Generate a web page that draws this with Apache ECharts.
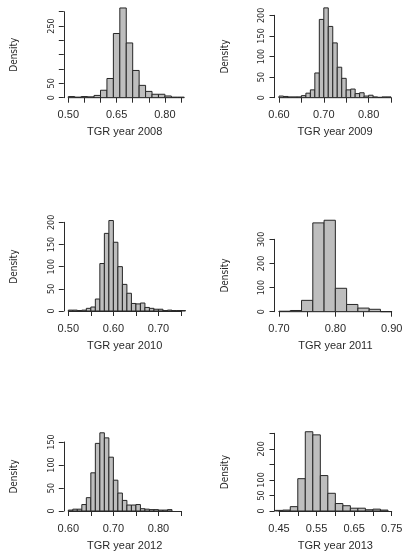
<!DOCTYPE html>
<html>
<head>
<meta charset="utf-8">
<script src="https://cdn.jsdelivr.net/npm/echarts@6/dist/echarts.min.js"></script>
<style>html,body{margin:0;padding:0;background:#fff}#c{width:408px;height:552px}</style>
</head>
<body>
<div id="c"></div>
<script>
// ---- Data ----
var titles = ['TGR year 2008','TGR year 2009','TGR year 2010','TGR year 2011','TGR year 2012','TGR year 2013'];

var breaks2008 = [0.50,0.52,0.54,0.56,0.58,0.60,0.62,0.64,0.66,0.68,0.70,0.72,0.74,0.76,0.78,0.80,0.82,0.84,0.86];
var dens2008   = [4,2,4,3,8,26,67,224,313,191,95,43,22,12,12,6,2,2];

var breaks2009 = [0.60,0.61,0.62,0.63,0.64,0.65,0.66,0.67,0.68,0.69,0.70,0.71,0.72,0.73,0.74,0.75,0.76,0.77,0.78,0.79,0.80,0.81,0.82,0.83,0.84,0.85];
var dens2009   = [4,3,2,2,2,5,11,19,60,190,218,173,133,74,47,19,21,10,12,4,6,2,1,2,2];

var breaks2010 = [0.50,0.51,0.52,0.53,0.54,0.55,0.56,0.57,0.58,0.59,0.60,0.61,0.62,0.63,0.64,0.65,0.66,0.67,0.68,0.69,0.70,0.71,0.72,0.73,0.74,0.75,0.76];
var dens2010   = [2,2,1,2,6,9,27,107,175,204,155,100,60,40,17,16,18,8,6,4,4,1,2,1,1,1];

var breaks2011 = [0.70,0.72,0.74,0.76,0.78,0.80,0.82,0.84,0.86,0.88,0.90];
var dens2011   = [2,5,47,368,379,97,30,15,10,0];

var breaks2012 = [0.60,0.61,0.62,0.63,0.64,0.65,0.66,0.67,0.68,0.69,0.70,0.71,0.72,0.73,0.74,0.75,0.76,0.77,0.78,0.79,0.80,0.81,0.82,0.83];
var dens2012   = [2,4,4,14,29,83,147,170,159,117,67,39,23,13,13,14,5,4,3,3,2,2,3];

var breaks2013 = [0.44,0.46,0.48,0.50,0.52,0.54,0.56,0.58,0.60,0.62,0.64,0.66,0.68,0.70,0.72,0.74];
var dens2013   = [2,3,14,104,255,245,114,57,24,17,9,9,4,6,3];

// axis tick ranges and the tick labels that are printed
var xTicks = [[0.50,0.85,0.05],[0.60,0.85,0.05],[0.50,0.75,0.05],[0.70,0.90,0.05],[0.60,0.85,0.05],[0.45,0.75,0.05]];
var yTicks = [[0,300,50],[0,200,50],[0,200,50],[0,300,100],[0,150,50],[0,250,50]];
var xLabelsShown = [['0.50','0.65','0.80'],['0.60','0.70','0.80'],['0.50','0.60','0.70'],['0.70','0.80','0.90'],['0.60','0.70','0.80'],['0.45','0.55','0.65','0.75']];
var yLabelsShown = [['0','50','250'],['0','50','100','150','200'],['0','50','100','150','200'],['0','100','200','300'],['0','50','100','150'],['0','50','100','200']];

var allBreaks = [breaks2008,breaks2009,breaks2010,breaks2011,breaks2012,breaks2013];
var allDens = [dens2008,dens2009,dens2010,dens2011,dens2012,dens2013];

// ---- Layout ----
var grids = [
  {left:68.3, top:11.7, width:112.7, height:86},
  {left:279, top:15.3, width:112, height:82.4},
  {left:68.3, top:222.3, width:112.7, height:88.7},
  {left:279, top:239.3, width:112.7, height:72.4},
  {left:68.3, top:442, width:112.7, height:75},
  {left:279, top:433.3, width:112.7, height:83.7}
];

var ink = '#2a2a2a';
var fontH = '"Liberation Sans", Arial, sans-serif';
var fontV = '"Liberation Sans Narrow", "DejaVu Sans Condensed", "Liberation Sans", sans-serif';

var option = {backgroundColor:'#fff', animation:false, grid:[], xAxis:[], yAxis:[], series:[]};

for (var i = 0; i < 6; i++) {
  (function(i){
    option.grid.push(grids[i]);
    option.xAxis.push({
      type:'value', gridIndex:i, min:xTicks[i][0], max:xTicks[i][1], interval:xTicks[i][2],
      offset:3, splitLine:{show:false},
      axisLine:{show:true, lineStyle:{color:ink, width:1}},
      axisTick:{show:true, length:5, lineStyle:{color:ink}},
      axisLabel:{margin:9, color:ink, fontSize:11, fontFamily:fontH,
        formatter:function(v){ var s=v.toFixed(2); return xLabelsShown[i].indexOf(s)>=0 ? s : ''; }},
      name:titles[i], nameLocation:'middle', nameGap:26,
      nameTextStyle:{color:ink, fontSize:11, fontFamily:fontH}
    });
    option.yAxis.push({
      type:'value', gridIndex:i, min:yTicks[i][0], max:yTicks[i][1], interval:yTicks[i][2],
      offset:4.5, splitLine:{show:false},
      axisLine:{show:true, lineStyle:{color:ink, width:1}},
      axisTick:{show:true, length:5, lineStyle:{color:ink}},
      axisLabel:{rotate:90, margin:8, color:ink, fontSize:9, fontFamily:fontV,
        formatter:function(v){ var s=String(Math.round(v)); return yLabelsShown[i].indexOf(s)>=0 ? s : ''; }},
      name:'Density', nameLocation:'middle', nameGap:44,
      nameTextStyle:{color:ink, fontSize:10, fontFamily:fontV}
    });
    var data = [];
    for (var k = 0; k < allDens[i].length; k++) {
      data.push([allBreaks[i][k], allBreaks[i][k+1], allDens[i][k]]);
    }
    option.series.push({
      type:'custom', xAxisIndex:i, yAxisIndex:i, clip:false,
      encode:{x:[0,1], y:2},
      data:data,
      renderItem:function(params, api){
        var p0 = api.coord([api.value(0), 0]);
        var p1 = api.coord([api.value(1), api.value(2)]);
        return {type:'rect',
          shape:{x:p0[0], y:p1[1], width:p1[0]-p0[0], height:p0[1]-p1[1]},
          style:{fill:'#bebebe', stroke:'#262626', lineWidth:1}};
      }
    });
  })(i);
}

var chart = echarts.init(document.getElementById('c'), null, {renderer:'canvas'});
chart.setOption(option);
</script>
</body>
</html>
